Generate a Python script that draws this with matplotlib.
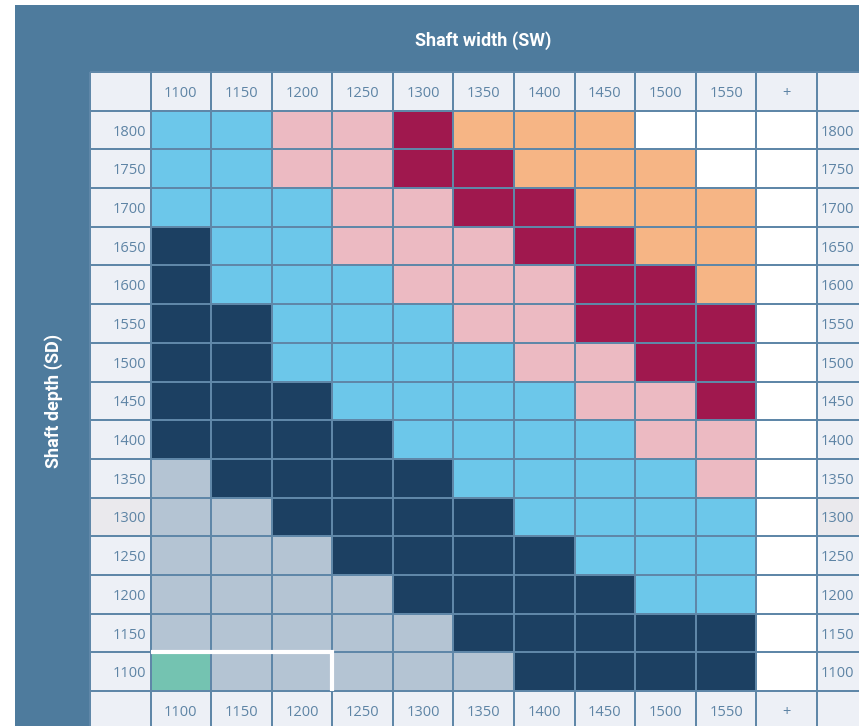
import numpy as np
import matplotlib
matplotlib.use("Agg")
import matplotlib.pyplot as plt
from matplotlib.colors import ListedColormap
from matplotlib.patches import Rectangle

# shaft sizes (mm)
widths = [1100, 1150, 1200, 1250, 1300, 1350, 1400, 1450, 1500, 1550]
depths = [1800, 1750, 1700, 1650, 1600, 1550, 1500, 1450, 1400, 1350,
          1300, 1250, 1200, 1150, 1100]

# class per depth row, one letter per width column
classes = [
    "BBPPCOOOWW",
    "BBPPCCOOOW",
    "BBBPPCCOOO",
    "NBBPPPCCOO",
    "NBBBPPPCCO",
    "NNBBBPPCCC",
    "NNBBBBPPCC",
    "NNNBBBBPPC",
    "NNNNBBBBPP",
    "GNNNNBBBBP",
    "GGNNNNBBBB",
    "GGGNNNNBBB",
    "GGGGNNNNBB",
    "GGGGGNNNNN",
    "TGGGGGNNNN",
]
highlight_widths = [1100, 1200]
highlight_depth = 1100

palette = {
    "H": "#edf0f6",   # header cells
    "A": "#eae9ed",   # header cell, 1300 row
    "W": "#ffffff",
    "B": "#6cc7ea",
    "P": "#ecbac2",
    "C": "#a0184e",
    "O": "#f6b585",
    "N": "#1c4062",
    "G": "#b4c4d3",
    "T": "#74c3b1",
}
keys = list(palette)
panel = "#4e7b9d"
gridc = "#5f87a8"
txtc = "#5e84a5"

# full table: label column, width columns, "+" column, label column
rows = [["H"] * (len(widths) + 3)]
for d, row in zip(depths, classes):
    lab = "A" if d == 1300 else "H"
    rows.append([lab] + list(row) + ["W", lab])
rows.append(["H"] * (len(widths) + 3))
codes = np.array([[keys.index(c) for c in r] for r in rows])
nr, nc = codes.shape

fig = plt.figure(figsize=(8.59, 7.26), dpi=100)
fig.patches.append(Rectangle((15 / 859, 0), 1, 721 / 726, transform=fig.transFigure,
                             facecolor=panel, edgecolor="none", zorder=-1))

ax = fig.add_axes([90 / 859, 0, 769 / 859, 654 / 726])
ax.set_facecolor("none")
mesh = ax.pcolormesh(np.arange(nc + 1), np.arange(nr + 1), codes,
                     cmap=ListedColormap(list(palette.values())),
                     vmin=-0.5, vmax=len(keys) - 0.5,
                     edgecolors=gridc, linewidth=1.1)
mesh.set_clip_on(False)
ax.set_xlim(0, 769 / 60.58)
ax.set_ylim(654 / 38.69, 0)
ax.axis("off")

num = dict(color=txtc, fontsize=10.5, family="Open Sans")
col_labels = [str(w) for w in widths] + ["+"]
for j, lab in enumerate(col_labels):
    for y in (0.5, nr - 0.5):
        ax.text(j + 1.5, y, lab, ha="center", va="center_baseline", **num)
for i, d in enumerate(depths):
    ax.text(0.93, i + 1.5, str(d), ha="right", va="center_baseline", **num)
    ax.text(nc - 0.94, i + 1.5, str(d), ha="left", va="center_baseline", **num)

# outline around the smallest sizes
x0 = widths.index(highlight_widths[0]) + 1
x1 = widths.index(highlight_widths[-1]) + 2
yr = depths.index(highlight_depth) + 1
ax.plot([x0, x1, x1], [yr, yr, yr + 1], color="white", lw=3,
        solid_capstyle="butt", solid_joinstyle="miter", clip_on=False)

fig.text(483 / 859, 1 - 41 / 726, "Shaft width (SW)", color="white", fontsize=13,
         fontweight="bold", family="Roboto", ha="center", va="center")
fig.text(54 / 859, 1 - 401 / 726, "Shaft depth (SD)", color="white", fontsize=13,
         fontweight="bold", family="Roboto", ha="center", va="center", rotation=90)

fig.savefig("out.png", dpi=100, facecolor="white")
